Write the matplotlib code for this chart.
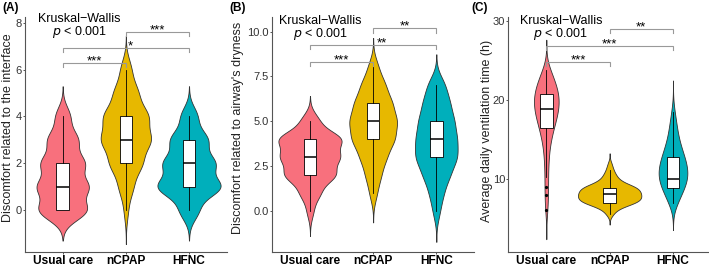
import numpy as np
import matplotlib
matplotlib.use("Agg")
import matplotlib.pyplot as plt

plt.rcParams["font.family"] = ["Liberation Sans", "DejaVu Sans"]

groups = ["Usual care", "nCPAP", "HFNC"]
colors = ["#F8707D", "#E7B800", "#00AFBB"]

# (A) discomfort related to the interface: number of patients per score
a_levels = [0, 1, 2, 3, 4, 5, 6]
a_usual = [72, 75, 64, 45, 22, 0, 0]
a_ncpap = [6, 21, 47, 72, 65, 35, 16]
a_hfnc = [26, 87, 70, 51, 23, 0, 0]
a_bw = [0.43, 0.48, 0.43]
a_box = [(0, 0, 1, 2, 4), (0, 2, 3, 4, 6), (0, 1, 2, 3, 4)]
a_sig = [(1, 2, "***", 6.28), (1, 3, "*", 6.92), (2, 3, "***", 7.6)]

# (B) discomfort related to airway's dryness
b_levels = [0, 1, 2, 3, 4, 5, 6, 7, 8]
b_usual = [9, 27, 68, 77, 85, 24, 0, 0, 0]
b_ncpap = [0, 9, 18, 30, 49, 54, 43, 28, 12]
b_hfnc = [9, 17, 32, 50, 48, 42, 32, 22, 0]
b_bw = [0.47, 0.55, 0.58]
b_box = [(0, 2, 3, 4, 5), (1, 4, 5, 6, 8), (0, 3, 4, 5, 7)]
b_sig = [(1, 2, "***", 8.31), (1, 3, "**", 9.26), (2, 3, "**", 10.19)]

# (C) average daily ventilation time (h)
c_usual_levels = [6, 7, 8, 9, 10, 11, 12, 13, 14, 15, 16, 17, 18, 19, 20, 21, 22, 23, 24]
c_usual = [4, 4, 5, 5, 5, 5, 6, 7, 9, 13, 18, 24, 31, 35, 37, 34, 27, 19, 9]
c_ncpap_levels = [5.5, 6, 6.5, 7, 7.5, 8, 8.5, 9, 9.5, 10, 10.5, 11, 11.5, 12]
c_ncpap = [5, 8, 18, 38, 44, 43, 42, 38, 20, 12, 9, 6, 4, 3]
c_hfnc_levels = [7, 8, 9, 10, 11, 12, 13, 14, 15, 16, 17, 18, 19]
c_hfnc = [16, 22, 36, 44, 44, 40, 32, 24, 17, 13, 10, 7, 3]
c_bw = [1.2, 0.42, 1.15]
c_box = [(10.2, 16.4, 18.8, 20.8, 23.8), (5.6, 6.94, 8.08, 8.92, 11.2), (7.0, 8.9, 10.0, 12.8, 18.5)]
c_fliers = [[9.0, 8.0, 6.1], [], []]
c_sig = [(1, 2, "***", 24.77), (1, 3, "***", 26.83), (2, 3, "**", 28.94)]


def kde(levels, counts, bw):
    lv = np.asarray(levels, float)
    ct = np.asarray(counts, float)
    lv, ct = lv[ct > 0], ct[ct > 0]
    y = np.linspace(lv.min() - 3 * bw, lv.max() + 3 * bw, 512)
    k = np.exp(-0.5 * ((y[None, :] - lv[:, None]) / bw) ** 2)
    d = (ct[:, None] * k).sum(0) / (ct.sum() * bw * np.sqrt(2 * np.pi))
    return y, d


panels = [
    dict(tag="(A)", data=[(a_levels, a_usual), (a_levels, a_ncpap), (a_levels, a_hfnc)],
         bw=a_bw, box=a_box, fliers=[[], [], []], sig=a_sig,
         ylim=(-1.79, 8.24), yticks=[0, 2, 4, 6, 8], fmt="{:g}",
         ylabel="Discomfort related to the interface",
         rect=[24.8, 226.9], ylab_x=8, ylab_y=128, tag_x=2.5,
         stat=(1.27, 8.03, 7.47), star_x={(1, 3): 2.07}),
    dict(tag="(B)", data=[(b_levels, b_usual), (b_levels, b_ncpap), (b_levels, b_hfnc)],
         bw=b_bw, box=b_box, fliers=[[], [], []], sig=b_sig,
         ylim=(-2.32, 10.82), yticks=[0, 2.5, 5, 7.5, 10], fmt="{:.1f}",
         ylabel="Discomfort related to airway's dryness",
         rect=[272.1, 474.2], ylab_x=238, ylab_y=128, tag_x=229,
         stat=(1.17, 10.43, 9.69), star_x={(1, 3): 2.14}),
    dict(tag="(C)", data=[(c_usual_levels, c_usual), (c_ncpap_levels, c_ncpap), (c_hfnc_levels, c_hfnc)],
         bw=c_bw, box=c_box, fliers=c_fliers, sig=c_sig,
         ylim=(0.745, 30.47), yticks=[10, 20, 30], fmt="{:g}",
         ylabel="Average daily ventilation time (h)",
         rect=[508.3, 711.0], ylab_x=487, ylab_y=131, tag_x=471,
         stat=(1.23, 29.57, 27.89), star_x={}),
]

W, H = 709, 269
fig = plt.figure(figsize=(W / 100, H / 100), dpi=100)
ax_bottom, ax_top = 252.3, 17.0

for p in panels:
    l, r = p["rect"]
    ax = fig.add_axes([l / W, 1 - ax_bottom / H, (r - l) / W, (ax_bottom - ax_top) / H])
    curves = [kde(lv, ct, bw) for (lv, ct), bw in zip(p["data"], p["bw"])]
    scale = 0.5 / max(d.max() for _, d in curves)
    for i, (y, d) in enumerate(curves):
        pos = i + 1
        ax.fill_betweenx(y, pos - d * scale, pos + d * scale, facecolor=colors[i],
                         edgecolor="#333333", linewidth=0.6, zorder=2)
        lo, q1, med, q3, hi = p["box"][i]
        st = [dict(whislo=lo, q1=q1, med=med, q3=q3, whishi=hi, fliers=p["fliers"][i])]
        ax.bxp(st, positions=[pos], widths=0.2, patch_artist=True, showcaps=False,
               manage_ticks=False, zorder=3,
               boxprops=dict(facecolor="white", edgecolor="black", linewidth=0.6),
               medianprops=dict(color="black", linewidth=1.1),
               whiskerprops=dict(color="black", linewidth=0.6),
               flierprops=dict(marker="o", markersize=1.3, markerfacecolor="black",
                               markeredgecolor="black"))

    y0, y1 = p["ylim"]
    tip = 0.018 * (y1 - y0)
    for g1, g2, lab, yv in p["sig"]:
        ax.plot([g1, g1, g2, g2], [yv - tip, yv, yv, yv - tip], color="#999999",
                linewidth=0.8, zorder=4, solid_joinstyle="miter")
        xs = p["star_x"].get((g1, g2), (g1 + g2) / 2)
        ax.annotate(lab, (xs, yv), xytext=(0, -1), textcoords="offset points",
                    ha="center", va="baseline", fontsize=9.5, zorder=5)

    sx, sy1, sy2 = p["stat"]
    ax.text(sx, sy1, "Kruskal\u2212Wallis", ha="center", va="baseline", fontsize=9)
    ax.text(sx, sy2, "$\\it{p}$ < 0.001", ha="center", va="baseline", fontsize=9)

    ax.set_xlim(0.4, 3.6)
    ax.set_ylim(y0, y1)
    ax.set_xticks([1, 2, 3])
    ax.set_xticklabels(groups, fontsize=8.6, fontweight="bold", color="black")
    ax.set_yticks(p["yticks"])
    ax.set_yticklabels([p["fmt"].format(t) for t in p["yticks"]], fontsize=8, color="#333333")
    ax.tick_params(length=1.5, width=0.7, color="#555555")
    ax.tick_params(axis="x", pad=0.6)
    ax.tick_params(axis="y", pad=0.8)
    for s in ["top", "right"]:
        ax.spines[s].set_visible(False)
    for s in ["left", "bottom"]:
        ax.spines[s].set_color("#555555")
        ax.spines[s].set_linewidth(0.8)
    ax.set_facecolor("none")

    fig.text(p["ylab_x"] / W, 1 - p["ylab_y"] / H, p["ylabel"], rotation=90,
             ha="center", va="center", fontsize=9, color="#222222")
    fig.text(p["tag_x"] / W, 1 - 7.5 / H, p["tag"], ha="left", va="center",
             fontsize=8.5, fontweight="bold")

fig.savefig("out.png", dpi=100)
